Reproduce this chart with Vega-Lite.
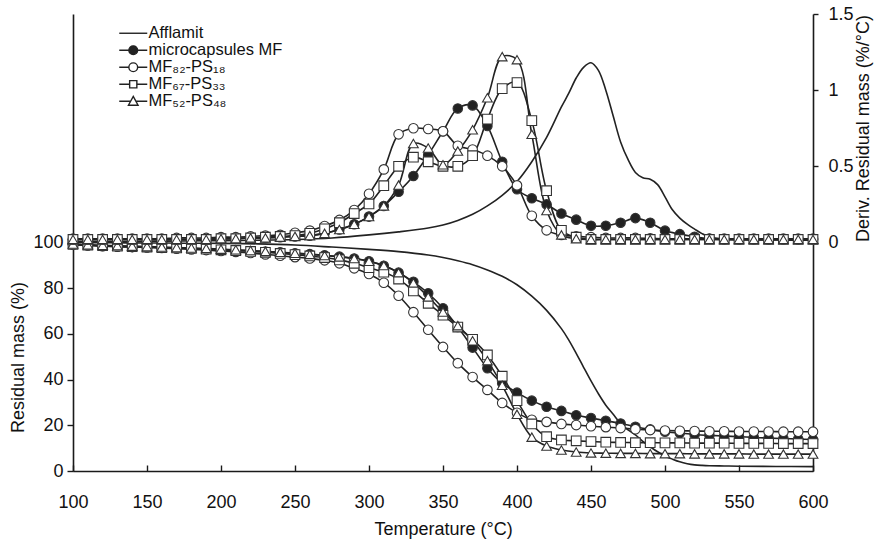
{
  "$schema": "https://vega.github.io/schema/vega-lite/v6.json",
  "width": 740,
  "height": 457,
  "autosize": {"type": "none"},
  "padding": {"left": 73, "top": 14, "right": 64, "bottom": 68},
  "background": "white",
  "config": {
    "view": {"stroke": null},
    "font": "Liberation Sans",
    "axis": {"grid": false, "domainColor": "#1a1a1a", "domainWidth": 1.6, "tickColor": "#1a1a1a", "tickWidth": 1.4, "labelFont": "Liberation Sans", "labelFontSize": 18, "labelColor": "#111", "titleFont": "Liberation Sans", "titleFontSize": 18, "titleFontWeight": "normal", "titleColor": "#111"}
  },
  "data": {"values": [
    {"s":"Afflamit","T":100,"tg":100,"dtg":0.005},
    {"s":"Afflamit","T":125,"tg":99.9,"dtg":0.006},
    {"s":"Afflamit","T":150,"tg":99.8,"dtg":0.008},
    {"s":"Afflamit","T":175,"tg":99.7,"dtg":0.01},
    {"s":"Afflamit","T":200,"tg":99.6,"dtg":0.012},
    {"s":"Afflamit","T":225,"tg":99.4,"dtg":0.015},
    {"s":"Afflamit","T":250,"tg":98.9,"dtg":0.02},
    {"s":"Afflamit","T":275,"tg":98.0,"dtg":0.03},
    {"s":"Afflamit","T":300,"tg":97.0,"dtg":0.05},
    {"s":"Afflamit","T":320,"tg":96.0,"dtg":0.07},
    {"s":"Afflamit","T":340,"tg":94.5,"dtg":0.095},
    {"s":"Afflamit","T":350,"tg":93.4,"dtg":0.115},
    {"s":"Afflamit","T":360,"tg":92.0,"dtg":0.145},
    {"s":"Afflamit","T":370,"tg":90.3,"dtg":0.185},
    {"s":"Afflamit","T":380,"tg":88.0,"dtg":0.24},
    {"s":"Afflamit","T":390,"tg":85.2,"dtg":0.31},
    {"s":"Afflamit","T":400,"tg":81.5,"dtg":0.40},
    {"s":"Afflamit","T":410,"tg":76.5,"dtg":0.53},
    {"s":"Afflamit","T":420,"tg":70.3,"dtg":0.69},
    {"s":"Afflamit","T":430,"tg":62.3,"dtg":0.89},
    {"s":"Afflamit","T":435,"tg":57.3,"dtg":0.98},
    {"s":"Afflamit","T":440,"tg":51.5,"dtg":1.08},
    {"s":"Afflamit","T":445,"tg":45.4,"dtg":1.15},
    {"s":"Afflamit","T":450,"tg":39.4,"dtg":1.18},
    {"s":"Afflamit","T":455,"tg":33.8,"dtg":1.13},
    {"s":"Afflamit","T":460,"tg":28.8,"dtg":1.0},
    {"s":"Afflamit","T":465,"tg":24.8,"dtg":0.83},
    {"s":"Afflamit","T":470,"tg":20.8,"dtg":0.66},
    {"s":"Afflamit","T":475,"tg":18.0,"dtg":0.545},
    {"s":"Afflamit","T":480,"tg":15.8,"dtg":0.46},
    {"s":"Afflamit","T":485,"tg":13.0,"dtg":0.425},
    {"s":"Afflamit","T":490,"tg":10.6,"dtg":0.415},
    {"s":"Afflamit","T":495,"tg":8.4,"dtg":0.38},
    {"s":"Afflamit","T":500,"tg":6.6,"dtg":0.30},
    {"s":"Afflamit","T":505,"tg":5.2,"dtg":0.215},
    {"s":"Afflamit","T":510,"tg":4.0,"dtg":0.16},
    {"s":"Afflamit","T":515,"tg":3.2,"dtg":0.12},
    {"s":"Afflamit","T":520,"tg":2.7,"dtg":0.088},
    {"s":"Afflamit","T":525,"tg":2.45,"dtg":0.058},
    {"s":"Afflamit","T":530,"tg":2.3,"dtg":0.037},
    {"s":"Afflamit","T":540,"tg":2.2,"dtg":0.022},
    {"s":"Afflamit","T":550,"tg":2.1,"dtg":0.018},
    {"s":"Afflamit","T":575,"tg":2.0,"dtg":0.016},
    {"s":"Afflamit","T":600,"tg":1.9,"dtg":0.015},

    {"s":"microcapsules MF","T":100,"tg":99.2,"dtg":0.02},
    {"s":"microcapsules MF","T":110,"tg":98.8,"dtg":0.02},
    {"s":"microcapsules MF","T":120,"tg":98.5,"dtg":0.02},
    {"s":"microcapsules MF","T":130,"tg":98.3,"dtg":0.02},
    {"s":"microcapsules MF","T":140,"tg":98.1,"dtg":0.02},
    {"s":"microcapsules MF","T":150,"tg":97.9,"dtg":0.02},
    {"s":"microcapsules MF","T":160,"tg":97.7,"dtg":0.02},
    {"s":"microcapsules MF","T":170,"tg":97.5,"dtg":0.02},
    {"s":"microcapsules MF","T":180,"tg":97.3,"dtg":0.02},
    {"s":"microcapsules MF","T":190,"tg":97.1,"dtg":0.02},
    {"s":"microcapsules MF","T":200,"tg":96.9,"dtg":0.025},
    {"s":"microcapsules MF","T":210,"tg":96.6,"dtg":0.025},
    {"s":"microcapsules MF","T":220,"tg":96.3,"dtg":0.03},
    {"s":"microcapsules MF","T":230,"tg":96.0,"dtg":0.03},
    {"s":"microcapsules MF","T":240,"tg":95.7,"dtg":0.035},
    {"s":"microcapsules MF","T":250,"tg":95.3,"dtg":0.04},
    {"s":"microcapsules MF","T":260,"tg":94.9,"dtg":0.045},
    {"s":"microcapsules MF","T":270,"tg":94.4,"dtg":0.06},
    {"s":"microcapsules MF","T":280,"tg":93.8,"dtg":0.085},
    {"s":"microcapsules MF","T":290,"tg":93.0,"dtg":0.12},
    {"s":"microcapsules MF","T":300,"tg":91.8,"dtg":0.17},
    {"s":"microcapsules MF","T":310,"tg":89.8,"dtg":0.24},
    {"s":"microcapsules MF","T":320,"tg":86.8,"dtg":0.333},
    {"s":"microcapsules MF","T":330,"tg":82.8,"dtg":0.437},
    {"s":"microcapsules MF","T":340,"tg":77.8,"dtg":0.575},
    {"s":"microcapsules MF","T":350,"tg":71.2,"dtg":0.73},
    {"s":"microcapsules MF","T":360,"tg":63.0,"dtg":0.88},
    {"s":"microcapsules MF","T":370,"tg":54.0,"dtg":0.90},
    {"s":"microcapsules MF","T":380,"tg":45.0,"dtg":0.765},
    {"s":"microcapsules MF","T":390,"tg":38.4,"dtg":0.53},
    {"s":"microcapsules MF","T":400,"tg":34.3,"dtg":0.35},
    {"s":"microcapsules MF","T":410,"tg":30.8,"dtg":0.29},
    {"s":"microcapsules MF","T":420,"tg":28.1,"dtg":0.25},
    {"s":"microcapsules MF","T":430,"tg":26.3,"dtg":0.19},
    {"s":"microcapsules MF","T":440,"tg":24.4,"dtg":0.15},
    {"s":"microcapsules MF","T":450,"tg":23.2,"dtg":0.11},
    {"s":"microcapsules MF","T":460,"tg":22.0,"dtg":0.11},
    {"s":"microcapsules MF","T":470,"tg":20.8,"dtg":0.13},
    {"s":"microcapsules MF","T":480,"tg":19.4,"dtg":0.16},
    {"s":"microcapsules MF","T":490,"tg":18.2,"dtg":0.13},
    {"s":"microcapsules MF","T":500,"tg":17.2,"dtg":0.078},
    {"s":"microcapsules MF","T":510,"tg":16.6,"dtg":0.055},
    {"s":"microcapsules MF","T":520,"tg":16.0,"dtg":0.038},
    {"s":"microcapsules MF","T":530,"tg":15.6,"dtg":0.025},
    {"s":"microcapsules MF","T":540,"tg":15.3,"dtg":0.02},
    {"s":"microcapsules MF","T":550,"tg":15.0,"dtg":0.02},
    {"s":"microcapsules MF","T":560,"tg":14.7,"dtg":0.02},
    {"s":"microcapsules MF","T":570,"tg":14.4,"dtg":0.02},
    {"s":"microcapsules MF","T":580,"tg":14.2,"dtg":0.02},
    {"s":"microcapsules MF","T":590,"tg":14.0,"dtg":0.02},
    {"s":"microcapsules MF","T":600,"tg":13.8,"dtg":0.02},

    {"s":"MF₈₂-PS₁₈","T":100,"tg":99.0,"dtg":0.025},
    {"s":"MF₈₂-PS₁₈","T":110,"tg":98.7,"dtg":0.025},
    {"s":"MF₈₂-PS₁₈","T":120,"tg":98.4,"dtg":0.025},
    {"s":"MF₈₂-PS₁₈","T":130,"tg":98.2,"dtg":0.025},
    {"s":"MF₈₂-PS₁₈","T":140,"tg":98.0,"dtg":0.025},
    {"s":"MF₈₂-PS₁₈","T":150,"tg":97.8,"dtg":0.025},
    {"s":"MF₈₂-PS₁₈","T":160,"tg":97.6,"dtg":0.025},
    {"s":"MF₈₂-PS₁₈","T":170,"tg":97.3,"dtg":0.03},
    {"s":"MF₈₂-PS₁₈","T":180,"tg":97.0,"dtg":0.03},
    {"s":"MF₈₂-PS₁₈","T":190,"tg":96.7,"dtg":0.03},
    {"s":"MF₈₂-PS₁₈","T":200,"tg":96.3,"dtg":0.035},
    {"s":"MF₈₂-PS₁₈","T":210,"tg":95.9,"dtg":0.035},
    {"s":"MF₈₂-PS₁₈","T":220,"tg":95.4,"dtg":0.04},
    {"s":"MF₈₂-PS₁₈","T":230,"tg":94.8,"dtg":0.045},
    {"s":"MF₈₂-PS₁₈","T":240,"tg":94.2,"dtg":0.05},
    {"s":"MF₈₂-PS₁₈","T":250,"tg":93.6,"dtg":0.064},
    {"s":"MF₈₂-PS₁₈","T":260,"tg":93.0,"dtg":0.078},
    {"s":"MF₈₂-PS₁₈","T":270,"tg":92.2,"dtg":0.108},
    {"s":"MF₈₂-PS₁₈","T":280,"tg":90.9,"dtg":0.148},
    {"s":"MF₈₂-PS₁₈","T":290,"tg":88.7,"dtg":0.213},
    {"s":"MF₈₂-PS₁₈","T":300,"tg":86.2,"dtg":0.32},
    {"s":"MF₈₂-PS₁₈","T":310,"tg":82.4,"dtg":0.48},
    {"s":"MF₈₂-PS₁₈","T":320,"tg":76.7,"dtg":0.71},
    {"s":"MF₈₂-PS₁₈","T":330,"tg":69.5,"dtg":0.75},
    {"s":"MF₈₂-PS₁₈","T":340,"tg":61.8,"dtg":0.745},
    {"s":"MF₈₂-PS₁₈","T":350,"tg":54.3,"dtg":0.73},
    {"s":"MF₈₂-PS₁₈","T":360,"tg":47.2,"dtg":0.635},
    {"s":"MF₈₂-PS₁₈","T":370,"tg":41.1,"dtg":0.61},
    {"s":"MF₈₂-PS₁₈","T":380,"tg":35.5,"dtg":0.57},
    {"s":"MF₈₂-PS₁₈","T":390,"tg":29.8,"dtg":0.50},
    {"s":"MF₈₂-PS₁₈","T":400,"tg":25.5,"dtg":0.375},
    {"s":"MF₈₂-PS₁₈","T":410,"tg":22.4,"dtg":0.175},
    {"s":"MF₈₂-PS₁₈","T":420,"tg":21.5,"dtg":0.08},
    {"s":"MF₈₂-PS₁₈","T":430,"tg":20.6,"dtg":0.05},
    {"s":"MF₈₂-PS₁₈","T":440,"tg":20.1,"dtg":0.04},
    {"s":"MF₈₂-PS₁₈","T":450,"tg":19.6,"dtg":0.035},
    {"s":"MF₈₂-PS₁₈","T":460,"tg":19.2,"dtg":0.03},
    {"s":"MF₈₂-PS₁₈","T":470,"tg":18.8,"dtg":0.03},
    {"s":"MF₈₂-PS₁₈","T":480,"tg":18.3,"dtg":0.03},
    {"s":"MF₈₂-PS₁₈","T":490,"tg":17.9,"dtg":0.028},
    {"s":"MF₈₂-PS₁₈","T":500,"tg":17.7,"dtg":0.025},
    {"s":"MF₈₂-PS₁₈","T":510,"tg":17.6,"dtg":0.025},
    {"s":"MF₈₂-PS₁₈","T":520,"tg":17.5,"dtg":0.025},
    {"s":"MF₈₂-PS₁₈","T":530,"tg":17.4,"dtg":0.025},
    {"s":"MF₈₂-PS₁₈","T":540,"tg":17.4,"dtg":0.025},
    {"s":"MF₈₂-PS₁₈","T":550,"tg":17.3,"dtg":0.025},
    {"s":"MF₈₂-PS₁₈","T":560,"tg":17.3,"dtg":0.025},
    {"s":"MF₈₂-PS₁₈","T":570,"tg":17.3,"dtg":0.025},
    {"s":"MF₈₂-PS₁₈","T":580,"tg":17.2,"dtg":0.025},
    {"s":"MF₈₂-PS₁₈","T":590,"tg":17.2,"dtg":0.025},
    {"s":"MF₈₂-PS₁₈","T":600,"tg":17.2,"dtg":0.025},

    {"s":"MF₆₇-PS₃₃","T":100,"tg":99.2,"dtg":0.02},
    {"s":"MF₆₇-PS₃₃","T":110,"tg":98.9,"dtg":0.02},
    {"s":"MF₆₇-PS₃₃","T":120,"tg":98.6,"dtg":0.02},
    {"s":"MF₆₇-PS₃₃","T":130,"tg":98.4,"dtg":0.02},
    {"s":"MF₆₇-PS₃₃","T":140,"tg":98.2,"dtg":0.02},
    {"s":"MF₆₇-PS₃₃","T":150,"tg":98.0,"dtg":0.02},
    {"s":"MF₆₇-PS₃₃","T":160,"tg":97.8,"dtg":0.02},
    {"s":"MF₆₇-PS₃₃","T":170,"tg":97.6,"dtg":0.02},
    {"s":"MF₆₇-PS₃₃","T":180,"tg":97.4,"dtg":0.02},
    {"s":"MF₆₇-PS₃₃","T":190,"tg":97.1,"dtg":0.02},
    {"s":"MF₆₇-PS₃₃","T":200,"tg":96.8,"dtg":0.025},
    {"s":"MF₆₇-PS₃₃","T":210,"tg":96.5,"dtg":0.025},
    {"s":"MF₆₇-PS₃₃","T":220,"tg":96.1,"dtg":0.03},
    {"s":"MF₆₇-PS₃₃","T":230,"tg":95.7,"dtg":0.035},
    {"s":"MF₆₇-PS₃₃","T":240,"tg":95.2,"dtg":0.04},
    {"s":"MF₆₇-PS₃₃","T":250,"tg":94.7,"dtg":0.045},
    {"s":"MF₆₇-PS₃₃","T":260,"tg":94.1,"dtg":0.06},
    {"s":"MF₆₇-PS₃₃","T":270,"tg":93.4,"dtg":0.09},
    {"s":"MF₆₇-PS₃₃","T":280,"tg":92.4,"dtg":0.13},
    {"s":"MF₆₇-PS₃₃","T":290,"tg":90.9,"dtg":0.19},
    {"s":"MF₆₇-PS₃₃","T":300,"tg":89.0,"dtg":0.253},
    {"s":"MF₆₇-PS₃₃","T":310,"tg":87.0,"dtg":0.373},
    {"s":"MF₆₇-PS₃₃","T":320,"tg":84.0,"dtg":0.50},
    {"s":"MF₆₇-PS₃₃","T":330,"tg":78.8,"dtg":0.56},
    {"s":"MF₆₇-PS₃₃","T":340,"tg":73.4,"dtg":0.53},
    {"s":"MF₆₇-PS₃₃","T":350,"tg":68.2,"dtg":0.50},
    {"s":"MF₆₇-PS₃₃","T":360,"tg":63.0,"dtg":0.50},
    {"s":"MF₆₇-PS₃₃","T":370,"tg":57.6,"dtg":0.57},
    {"s":"MF₆₇-PS₃₃","T":380,"tg":50.8,"dtg":0.81},
    {"s":"MF₆₇-PS₃₃","T":390,"tg":41.5,"dtg":1.01},
    {"s":"MF₆₇-PS₃₃","T":400,"tg":30.8,"dtg":1.05},
    {"s":"MF₆₇-PS₃₃","T":410,"tg":20.6,"dtg":0.80},
    {"s":"MF₆₇-PS₃₃","T":420,"tg":15.0,"dtg":0.34},
    {"s":"MF₆₇-PS₃₃","T":430,"tg":13.6,"dtg":0.08},
    {"s":"MF₆₇-PS₃₃","T":440,"tg":13.2,"dtg":0.035},
    {"s":"MF₆₇-PS₃₃","T":450,"tg":12.9,"dtg":0.02},
    {"s":"MF₆₇-PS₃₃","T":460,"tg":12.6,"dtg":0.02},
    {"s":"MF₆₇-PS₃₃","T":470,"tg":12.5,"dtg":0.02},
    {"s":"MF₆₇-PS₃₃","T":480,"tg":12.4,"dtg":0.02},
    {"s":"MF₆₇-PS₃₃","T":490,"tg":12.4,"dtg":0.02},
    {"s":"MF₆₇-PS₃₃","T":500,"tg":12.3,"dtg":0.02},
    {"s":"MF₆₇-PS₃₃","T":510,"tg":12.3,"dtg":0.02},
    {"s":"MF₆₇-PS₃₃","T":520,"tg":12.2,"dtg":0.02},
    {"s":"MF₆₇-PS₃₃","T":530,"tg":12.2,"dtg":0.02},
    {"s":"MF₆₇-PS₃₃","T":540,"tg":12.2,"dtg":0.02},
    {"s":"MF₆₇-PS₃₃","T":550,"tg":12.1,"dtg":0.02},
    {"s":"MF₆₇-PS₃₃","T":560,"tg":12.1,"dtg":0.02},
    {"s":"MF₆₇-PS₃₃","T":570,"tg":12.1,"dtg":0.02},
    {"s":"MF₆₇-PS₃₃","T":580,"tg":12.0,"dtg":0.02},
    {"s":"MF₆₇-PS₃₃","T":590,"tg":12.0,"dtg":0.02},
    {"s":"MF₆₇-PS₃₃","T":600,"tg":12.0,"dtg":0.02},

    {"s":"MF₅₂-PS₄₈","T":100,"tg":99.3,"dtg":0.02},
    {"s":"MF₅₂-PS₄₈","T":110,"tg":99.0,"dtg":0.02},
    {"s":"MF₅₂-PS₄₈","T":120,"tg":98.8,"dtg":0.02},
    {"s":"MF₅₂-PS₄₈","T":130,"tg":98.6,"dtg":0.02},
    {"s":"MF₅₂-PS₄₈","T":140,"tg":98.4,"dtg":0.02},
    {"s":"MF₅₂-PS₄₈","T":150,"tg":98.2,"dtg":0.02},
    {"s":"MF₅₂-PS₄₈","T":160,"tg":98.0,"dtg":0.02},
    {"s":"MF₅₂-PS₄₈","T":170,"tg":97.8,"dtg":0.02},
    {"s":"MF₅₂-PS₄₈","T":180,"tg":97.6,"dtg":0.02},
    {"s":"MF₅₂-PS₄₈","T":190,"tg":97.4,"dtg":0.02},
    {"s":"MF₅₂-PS₄₈","T":200,"tg":97.1,"dtg":0.025},
    {"s":"MF₅₂-PS₄₈","T":210,"tg":96.8,"dtg":0.025},
    {"s":"MF₅₂-PS₄₈","T":220,"tg":96.5,"dtg":0.03},
    {"s":"MF₅₂-PS₄₈","T":230,"tg":96.1,"dtg":0.03},
    {"s":"MF₅₂-PS₄₈","T":240,"tg":95.7,"dtg":0.035},
    {"s":"MF₅₂-PS₄₈","T":250,"tg":95.3,"dtg":0.04},
    {"s":"MF₅₂-PS₄₈","T":260,"tg":94.8,"dtg":0.045},
    {"s":"MF₅₂-PS₄₈","T":270,"tg":94.3,"dtg":0.06},
    {"s":"MF₅₂-PS₄₈","T":280,"tg":93.7,"dtg":0.085},
    {"s":"MF₅₂-PS₄₈","T":290,"tg":93.0,"dtg":0.12},
    {"s":"MF₅₂-PS₄₈","T":300,"tg":91.8,"dtg":0.17},
    {"s":"MF₅₂-PS₄₈","T":310,"tg":89.9,"dtg":0.24},
    {"s":"MF₅₂-PS₄₈","T":320,"tg":86.8,"dtg":0.377},
    {"s":"MF₅₂-PS₄₈","T":330,"tg":82.3,"dtg":0.65},
    {"s":"MF₅₂-PS₄₈","T":340,"tg":76.2,"dtg":0.62},
    {"s":"MF₅₂-PS₄₈","T":350,"tg":69.6,"dtg":0.51},
    {"s":"MF₅₂-PS₄₈","T":360,"tg":63.6,"dtg":0.60},
    {"s":"MF₅₂-PS₄₈","T":370,"tg":57.0,"dtg":0.74},
    {"s":"MF₅₂-PS₄₈","T":380,"tg":48.3,"dtg":0.95},
    {"s":"MF₅₂-PS₄₈","T":390,"tg":37.5,"dtg":1.22},
    {"s":"MF₅₂-PS₄₈","T":400,"tg":24.8,"dtg":1.20},
    {"s":"MF₅₂-PS₄₈","T":410,"tg":14.8,"dtg":0.71},
    {"s":"MF₅₂-PS₄₈","T":420,"tg":10.9,"dtg":0.21},
    {"s":"MF₅₂-PS₄₈","T":430,"tg":9.2,"dtg":0.05},
    {"s":"MF₅₂-PS₄₈","T":440,"tg":8.3,"dtg":0.025},
    {"s":"MF₅₂-PS₄₈","T":450,"tg":7.9,"dtg":0.02},
    {"s":"MF₅₂-PS₄₈","T":460,"tg":7.8,"dtg":0.02},
    {"s":"MF₅₂-PS₄₈","T":470,"tg":7.7,"dtg":0.02},
    {"s":"MF₅₂-PS₄₈","T":480,"tg":7.7,"dtg":0.02},
    {"s":"MF₅₂-PS₄₈","T":490,"tg":7.6,"dtg":0.02},
    {"s":"MF₅₂-PS₄₈","T":500,"tg":7.6,"dtg":0.02},
    {"s":"MF₅₂-PS₄₈","T":510,"tg":7.6,"dtg":0.02},
    {"s":"MF₅₂-PS₄₈","T":520,"tg":7.5,"dtg":0.02},
    {"s":"MF₅₂-PS₄₈","T":530,"tg":7.5,"dtg":0.02},
    {"s":"MF₅₂-PS₄₈","T":540,"tg":7.5,"dtg":0.02},
    {"s":"MF₅₂-PS₄₈","T":550,"tg":7.5,"dtg":0.02},
    {"s":"MF₅₂-PS₄₈","T":560,"tg":7.4,"dtg":0.02},
    {"s":"MF₅₂-PS₄₈","T":570,"tg":7.4,"dtg":0.02},
    {"s":"MF₅₂-PS₄₈","T":580,"tg":7.4,"dtg":0.02},
    {"s":"MF₅₂-PS₄₈","T":590,"tg":7.4,"dtg":0.02},
    {"s":"MF₅₂-PS₄₈","T":600,"tg":7.4,"dtg":0.02}
  ]},
  "encoding": {
    "x": {"field": "T", "type": "quantitative", "scale": {"domain": [100, 600], "nice": false},
      "axis": {"values": [100,150,200,250,300,350,400,450,500,550,600], "title": "Temperature (°C)", "tickSize": -6, "labelPadding": 28, "titlePadding": 9, "labelFlush": false}}
  },
  "layer": [
    {
      "encoding": {
        "y": {"field": "tg", "type": "quantitative", "scale": {"domain": [0, 200], "nice": false, "zero": false},
          "axis": {"orient": "left", "values": [0,20,40,60,80,100], "title": "Residual mass (%)", "tickSize": 6, "labelPadding": 4, "titleX": -55, "titleY": 343, "titleAngle": -90, "titleAlign": "center", "titleBaseline": "middle"}}
      },
      "layer": [
        {
          "mark": {"type": "line", "interpolate": "catmull-rom", "strokeWidth": 1.6},
          "encoding": {
            "stroke": {"field": "s", "type": "nominal",
              "scale": {"domain": ["Afflamit","microcapsules MF","MF₈₂-PS₁₈","MF₆₇-PS₃₃","MF₅₂-PS₄₈"], "range": ["#222","#222","#222","#222","#222"]},
              "legend": {"orient": "none", "legendX": 52, "legendY": 11, "title": null, "padding": 0, "symbolSize": 64, "labelOffset": 7, "rowPadding": 0, "labelFontSize": 16.5, "labelFont": "Liberation Sans", "labelColor": "#111", "labelLimit": 300, "symbolStrokeWidth": 1.4, "symbolStrokeColor": "#222",
                "encoding": {"symbols": {
                  "shape": {"value": {"expr": "datum.value === 'Afflamit' ? 'M-3.5,0H3.5' : (datum.value === 'MF₆₇-PS₃₃' ? 'M-3.5,0H-0.9M0.9,0H3.5M-0.9,-0.9H0.9V0.9H-0.9Z' : (datum.value === 'MF₅₂-PS₄₈' ? 'M-3.5,0H-0.65M0.65,0H3.5M0,-1.2L1.2,1L-1.2,1Z' : 'M-3.5,0H-1.1M1.1,0H3.5M-1.1,0A1.1,1.1,0,1,1,1.1,0A1.1,1.1,0,1,1,-1.1,0Z'))"}},
                  "fill": {"value": {"expr": "datum.value === 'microcapsules MF' ? '#222' : (datum.value === 'Afflamit' ? 'transparent' : 'white')"}},
                  "stroke": {"value": "#222"},
                  "strokeWidth": {"value": 1.4}
                }}
              }
            }
          }
        },
        {
          "transform": [{"filter": "datum.s !== 'Afflamit'"}],
          "mark": {"type": "point", "filled": true, "stroke": "#333", "strokeWidth": 1.1, "opacity": 1},
          "encoding": {
            "shape": {"field": "s", "type": "nominal", "scale": {"domain": ["microcapsules MF","MF₈₂-PS₁₈","MF₆₇-PS₃₃","MF₅₂-PS₄₈"], "range": ["circle","circle","square","triangle-up"]}, "legend": null},
            "fill": {"field": "s", "type": "nominal", "scale": {"domain": ["microcapsules MF","MF₈₂-PS₁₈","MF₆₇-PS₃₃","MF₅₂-PS₄₈"], "range": ["#222","white","white","white"]}, "legend": null},
            "size": {"field": "s", "type": "nominal", "scale": {"domain": ["microcapsules MF","MF₈₂-PS₁₈","MF₆₇-PS₃₃","MF₅₂-PS₄₈"], "range": [90, 95, 58, 85]}, "legend": null}
          }
        }
      ]
    },
    {
      "encoding": {
        "y": {"field": "dtg", "type": "quantitative", "scale": {"domain": [-1.5, 1.5], "nice": false, "zero": false},
          "axis": {"orient": "right", "values": [0, 0.5, 1, 1.5], "format": ".1~f", "title": "Deriv. Residual mass (%/°C)", "tickSize": 5, "labelPadding": 10, "titleX": 50, "titleY": 114, "titleAngle": -90, "titleAlign": "center", "titleBaseline": "middle"}}
      },
      "layer": [
        {
          "mark": {"type": "line", "interpolate": "catmull-rom", "strokeWidth": 1.6},
          "encoding": {
            "stroke": {"field": "s", "type": "nominal",
              "scale": {"domain": ["Afflamit","microcapsules MF","MF₈₂-PS₁₈","MF₆₇-PS₃₃","MF₅₂-PS₄₈"], "range": ["#222","#222","#222","#222","#222"]},
              "legend": {"orient": "none", "legendX": 52, "legendY": 11, "title": null, "padding": 0, "symbolSize": 64, "labelOffset": 7, "rowPadding": 0, "labelFontSize": 16.5, "labelFont": "Liberation Sans", "labelColor": "#111", "labelLimit": 300, "symbolStrokeWidth": 1.4, "symbolStrokeColor": "#222",
                "encoding": {"symbols": {
                  "shape": {"value": {"expr": "datum.value === 'Afflamit' ? 'M-3.5,0H3.5' : (datum.value === 'MF₆₇-PS₃₃' ? 'M-3.5,0H-0.9M0.9,0H3.5M-0.9,-0.9H0.9V0.9H-0.9Z' : (datum.value === 'MF₅₂-PS₄₈' ? 'M-3.5,0H-0.65M0.65,0H3.5M0,-1.2L1.2,1L-1.2,1Z' : 'M-3.5,0H-1.1M1.1,0H3.5M-1.1,0A1.1,1.1,0,1,1,1.1,0A1.1,1.1,0,1,1,-1.1,0Z'))"}},
                  "fill": {"value": {"expr": "datum.value === 'microcapsules MF' ? '#222' : (datum.value === 'Afflamit' ? 'transparent' : 'white')"}},
                  "stroke": {"value": "#222"},
                  "strokeWidth": {"value": 1.4}
                }}
              }
            }
          }
        },
        {
          "transform": [{"filter": "datum.s !== 'Afflamit'"}],
          "mark": {"type": "point", "filled": true, "stroke": "#333", "strokeWidth": 1.1, "opacity": 1},
          "encoding": {
            "shape": {"field": "s", "type": "nominal", "scale": {"domain": ["microcapsules MF","MF₈₂-PS₁₈","MF₆₇-PS₃₃","MF₅₂-PS₄₈"], "range": ["circle","circle","square","triangle-up"]}, "legend": null},
            "fill": {"field": "s", "type": "nominal", "scale": {"domain": ["microcapsules MF","MF₈₂-PS₁₈","MF₆₇-PS₃₃","MF₅₂-PS₄₈"], "range": ["#222","white","white","white"]}, "legend": null},
            "size": {"field": "s", "type": "nominal", "scale": {"domain": ["microcapsules MF","MF₈₂-PS₁₈","MF₆₇-PS₃₃","MF₅₂-PS₄₈"], "range": [90, 95, 58, 85]}, "legend": null}
          }
        }
      ]
    }
  ],
  "resolve": {"scale": {"y": "independent"}}
}
